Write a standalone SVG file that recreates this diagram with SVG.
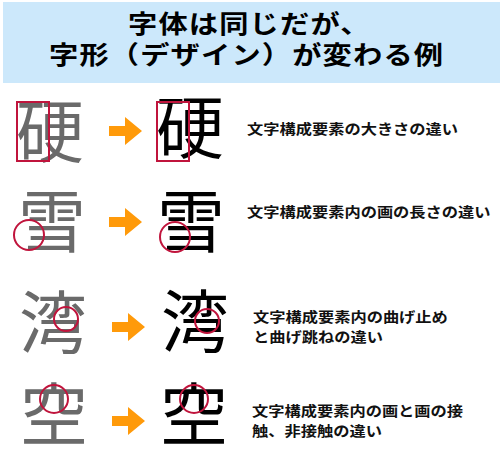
<svg xmlns="http://www.w3.org/2000/svg" width="503" height="474" viewBox="0 0 503 474">
<style>
.title{font-family:"Noto Sans CJK JP","Noto Sans CJK SC",sans-serif;font-size:25px;font-weight:bold;fill:#000;letter-spacing:1px}
.lbl{font-family:"Noto Sans CJK JP","Noto Sans CJK SC",sans-serif;font-size:14px;font-weight:bold;fill:#111}
.old{font-family:"Noto Sans CJK JP","Noto Sans CJK SC",sans-serif;font-size:68px;font-weight:400;fill:#6a6a6a;text-anchor:middle}
.new{font-family:"Noto Sans CJK JP","Noto Sans CJK SC",sans-serif;font-size:68px;font-weight:400;fill:#000;text-anchor:middle}
.mark{fill:none;stroke:#c0143c;stroke-width:2}
.arr{fill:#ff9a0a}
</style>
<defs>
<path id="arrow" d="M-16,-5 H0 V-14 L17,0 L0,14 V5 H-16 Z"/>
</defs>
<rect x="0" y="0" width="503" height="474" fill="#fff"/>
<g id="title">
<rect x="3" y="2" width="497" height="81" fill="#cce8fb"/>
<text class="title" transform="translate(128,33) scale(1.17,1)">字体は同じだが、</text>
<text class="title" transform="translate(49,64) scale(1.17,1)">字形（デザイン）が変わる例</text>
</g>
<g id="row1-old"><text class="old" x="50" y="157">硬</text><rect class="mark" x="17" y="102" width="32" height="59"/></g>
<g id="row1-new"><text class="new" x="190" y="153">硬</text><rect class="mark" x="157" y="102" width="32" height="59"/></g>
<g id="row1-label"><text class="lbl" transform="translate(247,134) scale(1.16,1)">文字構成要素の大きさの違い</text></g>
<g id="row2-old"><text class="old" x="52" y="247">雪</text><circle class="mark" cx="29" cy="235" r="15"/></g>
<g id="row2-new"><text class="new" x="191" y="247">雪</text><circle class="mark" cx="175" cy="237" r="15"/></g>
<g id="row2-label"><text class="lbl" transform="translate(247,217) scale(1.16,1)">文字構成要素内の画の長さの違い</text></g>
<g id="row3-old"><text class="old" x="53" y="348">湾</text><circle class="mark" cx="66" cy="319" r="12"/></g>
<g id="row3-new"><text class="new" x="195" y="347">湾</text><circle class="mark" cx="207" cy="321" r="12"/></g>
<g id="row3-label"><text class="lbl" transform="translate(253,322) scale(1.16,1)">文字構成要素内の曲げ止め</text><text class="lbl" transform="translate(253,342) scale(1.16,1)">と曲げ跳ねの違い</text></g>
<g id="row4-old"><text class="old" x="54" y="440">空</text><circle class="mark" cx="54" cy="399" r="14"/></g>
<g id="row4-new"><text class="new" x="194" y="440">空</text><circle class="mark" cx="194" cy="399" r="14"/></g>
<g id="row4-label"><text class="lbl" transform="translate(252,416) scale(1.16,1)">文字構成要素内の画と画の接</text><text class="lbl" transform="translate(252,436) scale(1.16,1)">触、非接触の違い</text></g>
<g id="connectors" class="arr">
<use href="#arrow" x="125" y="131"/>
<use href="#arrow" x="125" y="222"/>
<use href="#arrow" x="128" y="327"/>
<use href="#arrow" x="128" y="421"/>
</g>
</svg>
